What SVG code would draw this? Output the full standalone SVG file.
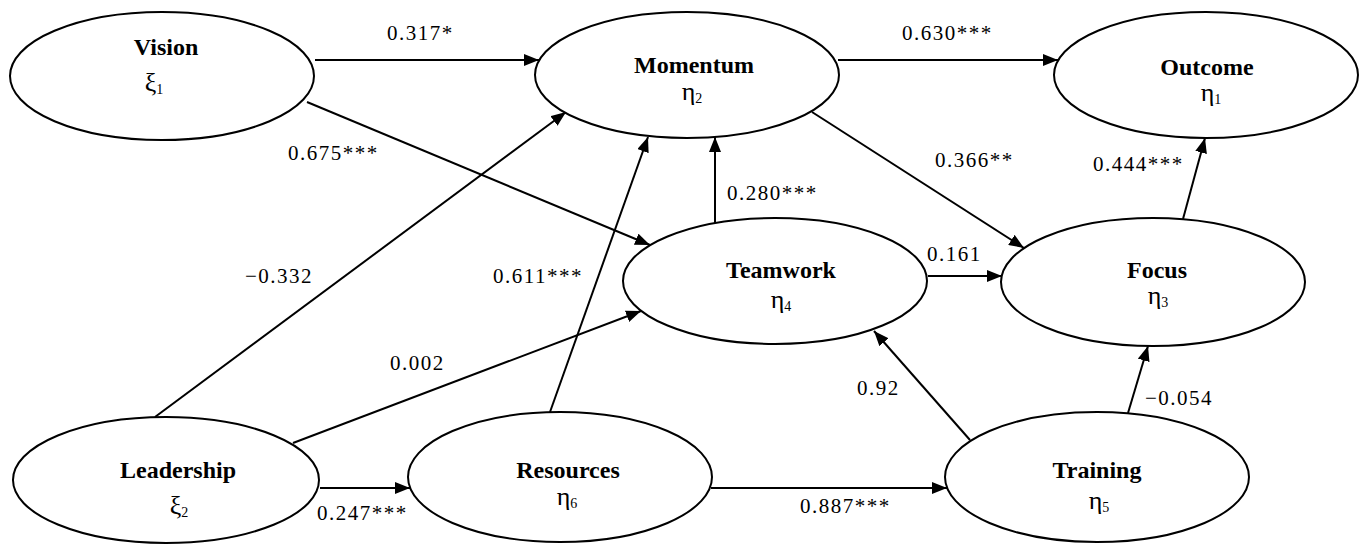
<svg xmlns="http://www.w3.org/2000/svg" width="1367" height="546" viewBox="0 0 1367 546">
<defs>
<marker id="arr" markerUnits="userSpaceOnUse" markerWidth="16" markerHeight="12" refX="15" refY="6" orient="auto">
<path d="M0,0 L15,6 L0,12 z" fill="#000"/>
</marker>
<style>
.node ellipse{fill:#fff;stroke:#000;stroke-width:2}
.title{font-family:"Liberation Serif","Times New Roman",serif;font-size:24px;font-weight:bold;text-anchor:middle;fill:#000}
.greek{font-family:"Liberation Serif","Times New Roman",serif;font-size:26px;text-anchor:middle;fill:#000}
.sub{font-size:14px}
.edges line{stroke:#000;stroke-width:2;fill:none}
.edges line.a{marker-end:url(#arr)}
.lbl{font-family:"Liberation Serif","Times New Roman",serif;font-size:21px;letter-spacing:1.5px;fill:#000}
</style>
</defs>
<rect width="1367" height="546" fill="#fff"/>
<g id="connectors" class="edges">
<line class="a" x1="315" y1="60" x2="539" y2="60"/>
<line class="a" x1="838" y1="60" x2="1058" y2="60"/>
<line class="a" x1="307" y1="102" x2="650" y2="245"/>
<line class="a" x1="155" y1="417" x2="566" y2="112"/>
<line class="a" x1="293" y1="443" x2="641" y2="311"/>
<line class="a" x1="320" y1="488" x2="410" y2="488"/>
<line class="a" x1="550" y1="412" x2="648" y2="137"/>
<line class="a" x1="715" y1="223" x2="715" y2="137"/>
<line class="a" x1="812" y1="112" x2="1024" y2="248"/>
<line class="a" x1="928" y1="276" x2="1002" y2="276"/>
<line class="a" x1="1183" y1="219" x2="1205" y2="138"/>
<line class="a" x1="970" y1="440" x2="874" y2="331"/>
<line class="a" x1="1128" y1="413" x2="1148" y2="346"/>
<line class="a" x1="711" y1="488" x2="947" y2="488"/>
</g>
<g id="edge-labels">
<text class="lbl" x="387" y="40">0.317*</text>
<text class="lbl" x="288" y="160">0.675***</text>
<text class="lbl" x="902" y="40">0.630***</text>
<text class="lbl" x="935" y="167">0.366**</text>
<text class="lbl" x="1093" y="171">0.444***</text>
<text class="lbl" x="727" y="200">0.280***</text>
<text class="lbl" x="245" y="283">−0.332</text>
<text class="lbl" x="493" y="283">0.611***</text>
<text class="lbl" x="927" y="261">0.161</text>
<text class="lbl" x="390" y="370">0.002</text>
<text class="lbl" x="857" y="395">0.92</text>
<text class="lbl" x="1145" y="405">−0.054</text>
<text class="lbl" x="317" y="520">0.247***</text>
<text class="lbl" x="800" y="513">0.887***</text>
</g>
<g id="vision" class="node">
<ellipse cx="162" cy="76" rx="152" ry="64"/>
<text class="title" x="166" y="55">Vision</text>
<text class="greek" x="154" y="91">ξ<tspan class="sub" dy="3">1</tspan></text>
</g>
<g id="momentum" class="node">
<ellipse cx="687" cy="75" rx="152" ry="63"/>
<text class="title" x="694" y="73">Momentum</text>
<text class="greek" x="692" y="100">η<tspan class="sub" dy="3">2</tspan></text>
</g>
<g id="outcome" class="node">
<ellipse cx="1206" cy="75" rx="152" ry="63"/>
<text class="title" x="1207" y="75">Outcome</text>
<text class="greek" x="1211" y="101">η<tspan class="sub" dy="3">1</tspan></text>
</g>
<g id="teamwork" class="node">
<ellipse cx="775" cy="281" rx="152" ry="63"/>
<text class="title" x="781" y="278">Teamwork</text>
<text class="greek" x="781" y="308">η<tspan class="sub" dy="3">4</tspan></text>
</g>
<g id="focus" class="node">
<ellipse cx="1153" cy="282" rx="152" ry="64"/>
<text class="title" x="1157" y="278">Focus</text>
<text class="greek" x="1158" y="304">η<tspan class="sub" dy="3">3</tspan></text>
</g>
<g id="leadership" class="node">
<ellipse cx="166" cy="480" rx="153" ry="63"/>
<text class="title" x="178" y="478">Leadership</text>
<text class="greek" x="179" y="514">ξ<tspan class="sub" dy="3">2</tspan></text>
</g>
<g id="resources" class="node">
<ellipse cx="560" cy="477" rx="152" ry="65"/>
<text class="title" x="568" y="478">Resources</text>
<text class="greek" x="567" y="505">η<tspan class="sub" dy="3">6</tspan></text>
</g>
<g id="training" class="node">
<ellipse cx="1097" cy="477" rx="152" ry="65"/>
<text class="title" x="1097" y="478">Training</text>
<text class="greek" x="1099" y="509">η<tspan class="sub" dy="3">5</tspan></text>
</g>
</svg>
